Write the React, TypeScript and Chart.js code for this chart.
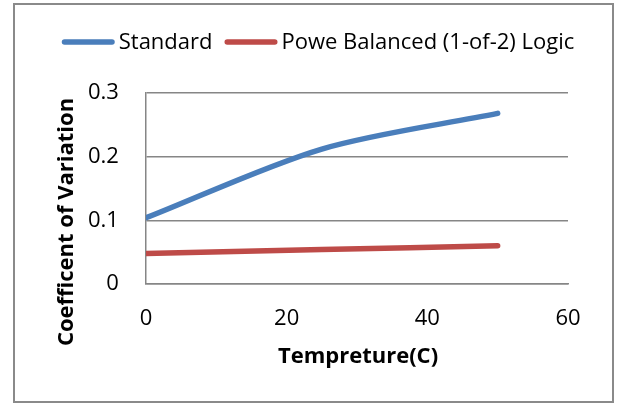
import React, { useEffect, useRef } from "react";
import { Chart, registerables } from "chart.js";

Chart.register(...registerables);

const temperatures = [0, 25, 50];
const standardCV = [0.104, 0.212, 0.268];
const balancedCV = [0.048, 0.054, 0.06];
const seriesNames = ["Standard", "Powe Balanced (1-of-2) Logic"];
const seriesColors = ["#4a7ebb", "#be4b48"];
const xTitle = "Tempreture(C)";
const yTitle = "Coefficent of Variation";

const FONT = "'Open Sans', 'Liberation Sans', sans-serif";

const frame = {
  id: "frame",
  beforeDraw(chart: any) {
    const ctx = chart.ctx;
    ctx.save();
    ctx.fillStyle = "#ffffff";
    ctx.fillRect(0, 0, chart.width, chart.height);
    ctx.strokeStyle = "#8a8a8a";
    ctx.lineWidth = 2;
    ctx.strokeRect(14, 4, 599, 398);
    ctx.restore();
  },
  afterDraw(chart: any) {
    const ctx = chart.ctx;
    ctx.save();
    // legend
    ctx.font = `22px ${FONT}`;
    ctx.textBaseline = "middle";
    ctx.textAlign = "left";
    const lineLen = 53;
    const gap = 4;
    const spacing = 12;
    const items = chart.data.datasets.map((d: any) => ({
      text: d.label,
      color: d.borderColor,
      w: ctx.measureText(d.label).width,
    }));
    const total =
      items.reduce((s: number, it: any) => s + lineLen + gap + it.w, 0) +
      spacing * (items.length - 1);
    let x = 318 - total / 2;
    const y = 42;
    items.forEach((it: any) => {
      ctx.strokeStyle = it.color;
      ctx.lineWidth = 5.5;
      ctx.lineCap = "round";
      ctx.beginPath();
      ctx.moveTo(x + 2.75, y);
      ctx.lineTo(x + lineLen - 2.75, y);
      ctx.stroke();
      x += lineLen + gap;
      ctx.fillStyle = "#000";
      ctx.fillText(it.text, x, y + 1);
      x += it.w + spacing;
    });
    // axis titles
    ctx.font = `bold 22px ${FONT}`;
    ctx.textAlign = "center";
    ctx.fillText(xTitle, 358, 357);
    ctx.translate(67, 222);
    ctx.rotate(-Math.PI / 2);
    ctx.fillText(yTitle, 0, 0);
    ctx.restore();
  },
};

export default function App() {
  const ref = useRef<HTMLCanvasElement>(null);
  useEffect(() => {
    const mk = (xs: number[], ys: number[]) => xs.map((x, i) => ({ x, y: ys[i] }));
    const chart = new Chart(ref.current!, {
      type: "line",
      data: {
        datasets: [
          {
            label: seriesNames[0],
            data: mk(temperatures, standardCV),
            borderColor: seriesColors[0],
            backgroundColor: seriesColors[0],
            borderWidth: 5.5,
            borderCapStyle: "round",
            pointRadius: 0,
            tension: 0.3,
          },
          {
            label: seriesNames[1],
            data: mk(temperatures, balancedCV),
            borderColor: seriesColors[1],
            backgroundColor: seriesColors[1],
            borderWidth: 5.5,
            borderCapStyle: "round",
            pointRadius: 0,
            tension: 0.3,
          },
        ],
      },
      options: {
        responsive: false,
        animation: false,
        layout: { padding: { left: 61, right: 54, top: 93, bottom: 52 } },
        plugins: {
          tooltip: { enabled: false },
          legend: { display: false },
        },
        scales: {
          x: {
            type: "linear",
            min: 0,
            max: 60,
            ticks: {
              stepSize: 20,
              color: "#000",
              padding: 24,
              font: { family: FONT, size: 22, lineHeight: 1 },
            },
            grid: { display: false, drawTicks: false },
            border: { display: true, color: "#868686", width: 1.5 },
          },
          y: {
            min: 0,
            max: 0.3,
            ticks: {
              stepSize: 0.1,
              color: "#000",
              padding: 27,
              font: { family: FONT, size: 22, lineHeight: 1 },
              callback: (v: any) => (v === 0 ? "0" : Number(v).toFixed(1)),
            },
            grid: { color: "#868686", lineWidth: 1.5, drawTicks: false },
            border: { display: true, color: "#868686", width: 1.5 },
          },
        },
      },
      plugins: [frame],
    });
    return () => chart.destroy();
  }, []);
  return (
    <div style={{ position: "absolute", left: 0, top: 0, width: 622, height: 406 }}>
      <canvas ref={ref} width={622} height={406} />
    </div>
  );
}
